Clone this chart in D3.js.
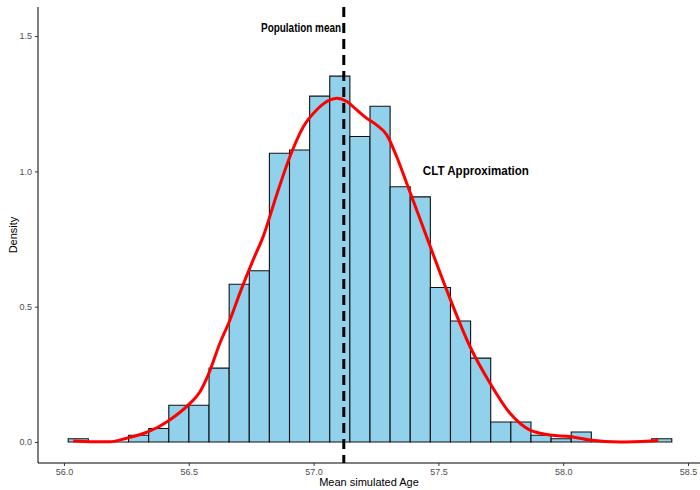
<!DOCTYPE html>
<html lang="en">
<head>
    <meta charset="UTF-8">
    <title>CLT histogram</title>
    <style>
        body { margin: 0; background: #fff; }
        text { font-family: "Liberation Sans", Arial, sans-serif; }
    </style>
</head>
<body>

<div id="chart"></div>

<script src="https://cdn.jsdelivr.net/npm/d3@7"></script>

<script>
// histogram: 30 bins, density values
const binStart = 56.017;
const binWidth = 0.0806;
const densities = [0.012, 0, 0, 0.025, 0.050, 0.136, 0.136, 0.273, 0.583, 0.633,
                   1.067, 1.079, 1.278, 1.352, 1.129, 1.241, 0.943, 0.906, 0.571, 0.447,
                   0.310, 0.074, 0.074, 0.025, 0.012, 0.037, 0, 0, 0, 0.012];

// red density curve
const curveX = [56.037, 56.117, 56.184, 56.251, 56.338, 56.418, 56.498, 56.545, 56.578, 56.625,
                56.665, 56.705, 56.758, 56.798, 56.852, 56.905, 56.959, 57.012, 57.066, 57.093,
                57.133, 57.173, 57.213, 57.253, 57.293, 57.333, 57.373, 57.413, 57.453, 57.533,
                57.627, 57.707, 57.787, 57.867, 57.947, 58.027, 58.107, 58.228, 58.348, 58.381];
const curveY = [0.004, 0.001, 0.001, 0.014, 0.038, 0.078, 0.137, 0.186, 0.248, 0.366,
                0.451, 0.551, 0.673, 0.759, 0.913, 1.054, 1.165, 1.227, 1.264, 1.270,
                1.258, 1.227, 1.196, 1.171, 1.135, 1.054, 0.956, 0.857, 0.758, 0.562,
                0.352, 0.217, 0.106, 0.044, 0.026, 0.020, 0.007, 0.000, 0.004, 0.006];

const popMean = 57.121;
const xTicks = [56.0, 56.5, 57.0, 57.5, 58.0, 58.5];
const yTicks = [0, 0.5, 1.0, 1.5];

let W = 700, H = 490;
let panel = {left: 38, right: 700, top: 7, bottom: 463};

var svg = d3.select("#chart").append("svg")
    .attr("width", W)
    .attr("height", H);

var x = d3.scaleLinear()
    .domain([55.896, 58.548])
    .range([panel.left, panel.right]);

var y = d3.scaleLinear()
    .domain([-0.0776, 1.6075])
    .range([panel.bottom, panel.top]);

// bars (path so that empty bins still show a line)
svg.append("g")
    .selectAll("path")
    .data(densities)
    .enter()
    .append("path")
    .attr("d", function (d, i) {
        let x0 = x(binStart + i * binWidth), x1 = x(binStart + (i + 1) * binWidth);
        return "M" + x0 + "," + y(0) + "V" + y(d) + "H" + x1 + "V" + y(0) + "Z";
    })
    .style("fill", "#92d1ec")
    .style("stroke", "#111")
    .style("stroke-width", 1.1);

// density curve
var line = d3.line()
    .x(function (d) { return x(d[0]); })
    .y(function (d) { return y(d[1]); })
    .curve(d3.curveMonotoneX);

svg.append("path")
    .datum(curveX.map(function (v, i) { return [v, curveY[i]]; }))
    .attr("d", line)
    .style("fill", "none")
    .style("stroke", "#ff0000")
    .style("stroke-width", 3);

// population mean line
svg.append("line")
    .attr("x1", x(popMean)).attr("x2", x(popMean))
    .attr("y1", panel.top).attr("y2", panel.bottom)
    .style("stroke", "#000")
    .style("stroke-width", 3)
    .style("stroke-dasharray", "10,6");

// annotations
svg.append("text")
    .attr("x", x(57.11))
    .attr("y", 32)
    .attr("text-anchor", "end")
    .attr("textLength", 80)
    .attr("lengthAdjust", "spacingAndGlyphs")
    .style("font-size", "12px")
    .style("font-weight", "bold")
    .text("Population mean");

svg.append("text")
    .attr("x", x(57.65))
    .attr("y", y(1.0) + 4)
    .attr("text-anchor", "middle")
    .attr("textLength", 106)
    .attr("lengthAdjust", "spacingAndGlyphs")
    .style("font-size", "12px")
    .style("font-weight", "bold")
    .text("CLT Approximation");

// axes
var xAxis = svg.append("g")
    .attr("transform", "translate(0," + panel.bottom + ")")
    .call(d3.axisBottom(x).tickValues(xTicks).tickFormat(d3.format(".1f")).tickSizeOuter(0).tickSize(3).tickPadding(3));
xAxis.select(".domain").attr("d", "M" + panel.left + ",0H" + panel.right).style("stroke", "#000");

var yAxis = svg.append("g")
    .attr("transform", "translate(" + panel.left + ",0)")
    .call(d3.axisLeft(y).tickValues(yTicks).tickFormat(d3.format(".1f")).tickSizeOuter(0).tickSize(3).tickPadding(3));
yAxis.select(".domain").attr("d", "M0," + panel.top + "V" + panel.bottom).style("stroke", "#000");

svg.selectAll(".tick line").style("stroke", "#333");
svg.selectAll(".tick text")
    .style("fill", "#4d4d4d")
    .style("font-size", "9px")
    .style("font-family", "Liberation Sans, Arial, sans-serif");

// axis labels
svg.append("text")
    .attr("x", (panel.left + panel.right) / 2)
    .attr("y", 486)
    .attr("text-anchor", "middle")
    .style("font-size", "11px")
    .text("Mean simulated Age");

svg.append("text")
    .attr("transform", "rotate(-90)")
    .attr("x", -(panel.top + panel.bottom) / 2)
    .attr("y", 17)
    .attr("text-anchor", "middle")
    .style("font-size", "11px")
    .text("Density");
</script>

</body>
</html>
